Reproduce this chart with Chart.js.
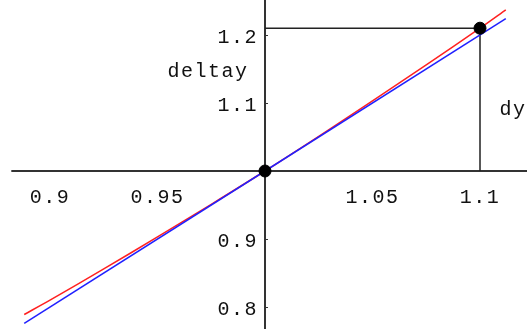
<!DOCTYPE html>
<html>
<head>
<meta charset="utf-8">
<script src="https://cdn.jsdelivr.net/npm/chart.js@4"></script>
<style>
  html, body { margin: 0; padding: 0; background: #fff; overflow: hidden; }
  #wrap { width: 527px; height: 329px; }
</style>
</head>
<body>
<div id="wrap"><canvas id="chart"></canvas></div>
<script>
// values
const curveX = [0.888, 0.9, 0.925, 0.95, 0.975, 1.0, 1.025, 1.05, 1.075, 1.1, 1.112];
const curveY = [0.789, 0.81, 0.856, 0.903, 0.951, 1.0, 1.051, 1.103, 1.156, 1.21, 1.237];
const tangentX = [0.888, 1.0, 1.112];
const tangentY = [0.776, 1.0, 1.224];
const dotX = [1.0, 1.1];
const dotY = [1.0, 1.21];
const xTicks = [0.9, 0.95, 1.05, 1.1];
const xTickLabels = ["0.9", "0.95", "1.05", "1.1"];
const yTicks = [0.8, 0.9, 1.1, 1.2];
const yTickLabels = ["0.8", "0.9", "1.1", "1.2"];
const xAxisStart = 0.882;
const boxX = [1.0, 1.1, 1.1];
const boxY = [1.21, 1.21, 1.0];
const textLabels = [
  { text: "deltay", x: 0.9735, y: 1.1456 },
  { text: "dy", x: 1.1153, y: 1.0897 },
];

const font = '20px "Liberation Mono", "Courier New", monospace';

const toPoints = (xs, ys) => xs.map((x, i) => ({ x: x, y: ys[i] }));

// axes, ticks and labels drawn with the chart's own scales
const axesPlugin = {
  id: "axes",
  beforeDatasetsDraw(chart) {
    const { ctx, scales } = chart;
    const xs = scales.x;
    const ys = scales.y;
    const ox = xs.getPixelForValue(1);
    const oy = ys.getPixelForValue(1);
    ctx.save();
    ctx.strokeStyle = "#333";
    ctx.lineWidth = 2;
    ctx.beginPath();
    ctx.moveTo(xs.getPixelForValue(xAxisStart), oy);
    ctx.lineTo(chart.width, oy);
    ctx.moveTo(ox, 0);
    ctx.lineTo(ox, chart.height);
    ctx.stroke();

    // the dy box
    ctx.strokeStyle = "#222";
    ctx.lineWidth = 1.5;
    ctx.beginPath();
    boxX.forEach((x, i) => {
      const px = xs.getPixelForValue(x);
      const py = ys.getPixelForValue(boxY[i]);
      if (i === 0) ctx.moveTo(px, py);
      else ctx.lineTo(px, py);
    });
    ctx.stroke();

    // small ticks on y axis
    ctx.lineWidth = 1;
    ctx.strokeStyle = "#333";
    yTicks.forEach((v) => {
      const py = Math.round(ys.getPixelForValue(v)) + 0.5;
      ctx.beginPath();
      ctx.moveTo(ox, py);
      ctx.lineTo(ox + 3, py);
      ctx.stroke();
    });

    ctx.fillStyle = "#111";
    ctx.font = font;
    ctx.letterSpacing = "1.5px";
    ctx.textBaseline = "middle";
    ctx.textAlign = "center";
    xTicks.forEach((v, i) => {
      ctx.fillText(xTickLabels[i], xs.getPixelForValue(v), oy + 27);
    });
    ctx.textAlign = "right";
    yTicks.forEach((v, i) => {
      ctx.fillText(yTickLabels[i], ox - 7, ys.getPixelForValue(v) + 3);
    });
    ctx.textAlign = "center";
    textLabels.forEach((t) => {
      ctx.fillText(t.text, xs.getPixelForValue(t.x), ys.getPixelForValue(t.y));
    });
    ctx.restore();
  },
};

new Chart(document.getElementById("chart"), {
  type: "scatter",
  data: {
    datasets: [
      {
        label: "dots",
        data: toPoints(dotX, dotY),
        backgroundColor: "#000",
        borderColor: "#000",
        pointRadius: 6,
        pointStyle: "circle",
        order: 0,
      },
      {
        label: "curve",
        data: toPoints(curveX, curveY),
        showLine: true,
        borderColor: "#ff2020",
        borderWidth: 1.5,
        pointRadius: 0,
        tension: 0.3,
        order: 2,
      },
      {
        label: "tangent",
        data: toPoints(tangentX, tangentY),
        showLine: true,
        borderColor: "#2020ff",
        borderWidth: 1.5,
        pointRadius: 0,
        order: 1,
      },
    ],
  },
  options: {
    responsive: true,
    maintainAspectRatio: false,
    animation: false,
    layout: { padding: 0, autoPadding: false },
    plugins: {
      legend: { display: false },
      tooltip: { enabled: false },
    },
    scales: {
      x: { type: "linear", min: 0.87674, max: 1.12186, display: false },
      y: { type: "linear", min: 0.76765, max: 1.25147, display: false },
    },
  },
  plugins: [axesPlugin],
});
</script>
</body>
</html>
